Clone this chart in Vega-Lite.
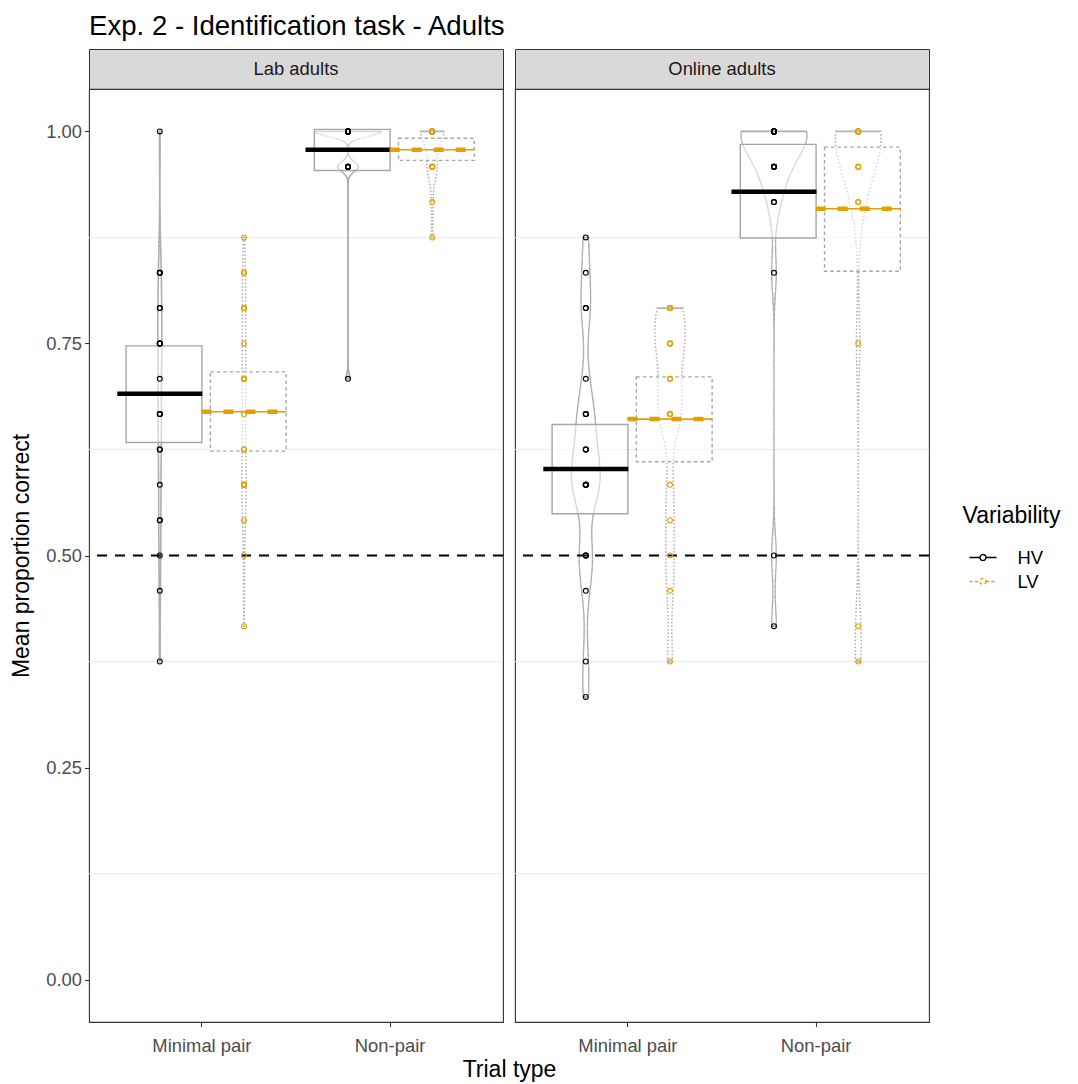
{
"$schema": "https://vega.github.io/schema/vega-lite/v6.json",
"background": "white",
"padding": {"left": 10, "top": 12, "right": 5, "bottom": 2},
"title": {"text": "Exp. 2 - Identification task - Adults", "anchor": "start", "frame": "group", "fontSize": 27.6, "fontWeight": "normal", "color": "#000000", "font": "Liberation Sans", "offset": 8},
"datasets": {
"grid": [{"g": 0.125}, {"g": 0.375}, {"g": 0.625}, {"g": 0.875}],
"ref": [{"y": 0.5}],
"stats": [
{"panel": "Lab", "trial": "Minimal pair", "var": "HV", "mean": 0.6906, "lo": 0.6333, "hi": 0.7471},
{"panel": "Lab", "trial": "Minimal pair", "var": "LV", "mean": 0.6694, "lo": 0.6231, "hi": 0.7165},
{"panel": "Lab", "trial": "Non-pair", "var": "HV", "mean": 0.9784, "lo": 0.954, "hi": 1.0024},
{"panel": "Lab", "trial": "Non-pair", "var": "LV", "mean": 0.9784, "lo": 0.9658, "hi": 0.992},
{"panel": "Online", "trial": "Minimal pair", "var": "HV", "mean": 0.6019, "lo": 0.5492, "hi": 0.6545},
{"panel": "Online", "trial": "Minimal pair", "var": "LV", "mean": 0.6608, "lo": 0.6105, "hi": 0.7106},
{"panel": "Online", "trial": "Non-pair", "var": "HV", "mean": 0.929, "lo": 0.8743, "hi": 0.9847},
{"panel": "Online", "trial": "Non-pair", "var": "LV", "mean": 0.9089, "lo": 0.8351, "hi": 0.9815}
],
"pts": [
{"panel":"Lab","trial":"Minimal pair","var":"HV","prop":1},
{"panel":"Lab","trial":"Minimal pair","var":"HV","prop":0.8333},
{"panel":"Lab","trial":"Minimal pair","var":"HV","prop":0.8333},
{"panel":"Lab","trial":"Minimal pair","var":"HV","prop":0.8333},
{"panel":"Lab","trial":"Minimal pair","var":"HV","prop":0.7917},
{"panel":"Lab","trial":"Minimal pair","var":"HV","prop":0.7917},
{"panel":"Lab","trial":"Minimal pair","var":"HV","prop":0.75},
{"panel":"Lab","trial":"Minimal pair","var":"HV","prop":0.75},
{"panel":"Lab","trial":"Minimal pair","var":"HV","prop":0.75},
{"panel":"Lab","trial":"Minimal pair","var":"HV","prop":0.75},
{"panel":"Lab","trial":"Minimal pair","var":"HV","prop":0.7083},
{"panel":"Lab","trial":"Minimal pair","var":"HV","prop":0.6667},
{"panel":"Lab","trial":"Minimal pair","var":"HV","prop":0.6667},
{"panel":"Lab","trial":"Minimal pair","var":"HV","prop":0.6667},
{"panel":"Lab","trial":"Minimal pair","var":"HV","prop":0.625},
{"panel":"Lab","trial":"Minimal pair","var":"HV","prop":0.625},
{"panel":"Lab","trial":"Minimal pair","var":"HV","prop":0.5833},
{"panel":"Lab","trial":"Minimal pair","var":"HV","prop":0.5417},
{"panel":"Lab","trial":"Minimal pair","var":"HV","prop":0.5417},
{"panel":"Lab","trial":"Minimal pair","var":"HV","prop":0.5},
{"panel":"Lab","trial":"Minimal pair","var":"HV","prop":0.4583},
{"panel":"Lab","trial":"Minimal pair","var":"HV","prop":0.375},
{"panel":"Lab","trial":"Minimal pair","var":"LV","prop":0.875},
{"panel":"Lab","trial":"Minimal pair","var":"LV","prop":0.8333},
{"panel":"Lab","trial":"Minimal pair","var":"LV","prop":0.8333},
{"panel":"Lab","trial":"Minimal pair","var":"LV","prop":0.7917},
{"panel":"Lab","trial":"Minimal pair","var":"LV","prop":0.7917},
{"panel":"Lab","trial":"Minimal pair","var":"LV","prop":0.7917},
{"panel":"Lab","trial":"Minimal pair","var":"LV","prop":0.75},
{"panel":"Lab","trial":"Minimal pair","var":"LV","prop":0.7083},
{"panel":"Lab","trial":"Minimal pair","var":"LV","prop":0.7083},
{"panel":"Lab","trial":"Minimal pair","var":"LV","prop":0.7083},
{"panel":"Lab","trial":"Minimal pair","var":"LV","prop":0.7083},
{"panel":"Lab","trial":"Minimal pair","var":"LV","prop":0.6667},
{"panel":"Lab","trial":"Minimal pair","var":"LV","prop":0.625},
{"panel":"Lab","trial":"Minimal pair","var":"LV","prop":0.625},
{"panel":"Lab","trial":"Minimal pair","var":"LV","prop":0.5833},
{"panel":"Lab","trial":"Minimal pair","var":"LV","prop":0.5833},
{"panel":"Lab","trial":"Minimal pair","var":"LV","prop":0.5833},
{"panel":"Lab","trial":"Minimal pair","var":"LV","prop":0.5833},
{"panel":"Lab","trial":"Minimal pair","var":"LV","prop":0.5833},
{"panel":"Lab","trial":"Minimal pair","var":"LV","prop":0.5417},
{"panel":"Lab","trial":"Minimal pair","var":"LV","prop":0.5},
{"panel":"Lab","trial":"Minimal pair","var":"LV","prop":0.4167},
{"panel":"Lab","trial":"Non-pair","var":"HV","prop":1},
{"panel":"Lab","trial":"Non-pair","var":"HV","prop":1},
{"panel":"Lab","trial":"Non-pair","var":"HV","prop":1},
{"panel":"Lab","trial":"Non-pair","var":"HV","prop":1},
{"panel":"Lab","trial":"Non-pair","var":"HV","prop":1},
{"panel":"Lab","trial":"Non-pair","var":"HV","prop":1},
{"panel":"Lab","trial":"Non-pair","var":"HV","prop":1},
{"panel":"Lab","trial":"Non-pair","var":"HV","prop":1},
{"panel":"Lab","trial":"Non-pair","var":"HV","prop":1},
{"panel":"Lab","trial":"Non-pair","var":"HV","prop":1},
{"panel":"Lab","trial":"Non-pair","var":"HV","prop":1},
{"panel":"Lab","trial":"Non-pair","var":"HV","prop":1},
{"panel":"Lab","trial":"Non-pair","var":"HV","prop":1},
{"panel":"Lab","trial":"Non-pair","var":"HV","prop":1},
{"panel":"Lab","trial":"Non-pair","var":"HV","prop":1},
{"panel":"Lab","trial":"Non-pair","var":"HV","prop":1},
{"panel":"Lab","trial":"Non-pair","var":"HV","prop":0.9583},
{"panel":"Lab","trial":"Non-pair","var":"HV","prop":0.9583},
{"panel":"Lab","trial":"Non-pair","var":"HV","prop":0.9583},
{"panel":"Lab","trial":"Non-pair","var":"HV","prop":0.9583},
{"panel":"Lab","trial":"Non-pair","var":"HV","prop":0.9583},
{"panel":"Lab","trial":"Non-pair","var":"HV","prop":0.7083},
{"panel":"Lab","trial":"Non-pair","var":"LV","prop":1},
{"panel":"Lab","trial":"Non-pair","var":"LV","prop":1},
{"panel":"Lab","trial":"Non-pair","var":"LV","prop":1},
{"panel":"Lab","trial":"Non-pair","var":"LV","prop":1},
{"panel":"Lab","trial":"Non-pair","var":"LV","prop":1},
{"panel":"Lab","trial":"Non-pair","var":"LV","prop":1},
{"panel":"Lab","trial":"Non-pair","var":"LV","prop":1},
{"panel":"Lab","trial":"Non-pair","var":"LV","prop":1},
{"panel":"Lab","trial":"Non-pair","var":"LV","prop":1},
{"panel":"Lab","trial":"Non-pair","var":"LV","prop":1},
{"panel":"Lab","trial":"Non-pair","var":"LV","prop":1},
{"panel":"Lab","trial":"Non-pair","var":"LV","prop":1},
{"panel":"Lab","trial":"Non-pair","var":"LV","prop":1},
{"panel":"Lab","trial":"Non-pair","var":"LV","prop":1},
{"panel":"Lab","trial":"Non-pair","var":"LV","prop":0.9583},
{"panel":"Lab","trial":"Non-pair","var":"LV","prop":0.9583},
{"panel":"Lab","trial":"Non-pair","var":"LV","prop":0.9583},
{"panel":"Lab","trial":"Non-pair","var":"LV","prop":0.9583},
{"panel":"Lab","trial":"Non-pair","var":"LV","prop":0.9583},
{"panel":"Lab","trial":"Non-pair","var":"LV","prop":0.9583},
{"panel":"Lab","trial":"Non-pair","var":"LV","prop":0.9167},
{"panel":"Lab","trial":"Non-pair","var":"LV","prop":0.875},
{"panel":"Online","trial":"Minimal pair","var":"HV","prop":0.875},
{"panel":"Online","trial":"Minimal pair","var":"HV","prop":0.8333},
{"panel":"Online","trial":"Minimal pair","var":"HV","prop":0.7917},
{"panel":"Online","trial":"Minimal pair","var":"HV","prop":0.7917},
{"panel":"Online","trial":"Minimal pair","var":"HV","prop":0.7083},
{"panel":"Online","trial":"Minimal pair","var":"HV","prop":0.6667},
{"panel":"Online","trial":"Minimal pair","var":"HV","prop":0.6667},
{"panel":"Online","trial":"Minimal pair","var":"HV","prop":0.6667},
{"panel":"Online","trial":"Minimal pair","var":"HV","prop":0.625},
{"panel":"Online","trial":"Minimal pair","var":"HV","prop":0.625},
{"panel":"Online","trial":"Minimal pair","var":"HV","prop":0.625},
{"panel":"Online","trial":"Minimal pair","var":"HV","prop":0.5833},
{"panel":"Online","trial":"Minimal pair","var":"HV","prop":0.5833},
{"panel":"Online","trial":"Minimal pair","var":"HV","prop":0.5833},
{"panel":"Online","trial":"Minimal pair","var":"HV","prop":0.5833},
{"panel":"Online","trial":"Minimal pair","var":"HV","prop":0.5833},
{"panel":"Online","trial":"Minimal pair","var":"HV","prop":0.5833},
{"panel":"Online","trial":"Minimal pair","var":"HV","prop":0.5},
{"panel":"Online","trial":"Minimal pair","var":"HV","prop":0.5},
{"panel":"Online","trial":"Minimal pair","var":"HV","prop":0.5},
{"panel":"Online","trial":"Minimal pair","var":"HV","prop":0.4583},
{"panel":"Online","trial":"Minimal pair","var":"HV","prop":0.375},
{"panel":"Online","trial":"Minimal pair","var":"HV","prop":0.3333},
{"panel":"Online","trial":"Minimal pair","var":"LV","prop":0.7917},
{"panel":"Online","trial":"Minimal pair","var":"LV","prop":0.7917},
{"panel":"Online","trial":"Minimal pair","var":"LV","prop":0.7917},
{"panel":"Online","trial":"Minimal pair","var":"LV","prop":0.7917},
{"panel":"Online","trial":"Minimal pair","var":"LV","prop":0.75},
{"panel":"Online","trial":"Minimal pair","var":"LV","prop":0.75},
{"panel":"Online","trial":"Minimal pair","var":"LV","prop":0.75},
{"panel":"Online","trial":"Minimal pair","var":"LV","prop":0.75},
{"panel":"Online","trial":"Minimal pair","var":"LV","prop":0.7083},
{"panel":"Online","trial":"Minimal pair","var":"LV","prop":0.7083},
{"panel":"Online","trial":"Minimal pair","var":"LV","prop":0.6667},
{"panel":"Online","trial":"Minimal pair","var":"LV","prop":0.6667},
{"panel":"Online","trial":"Minimal pair","var":"LV","prop":0.6667},
{"panel":"Online","trial":"Minimal pair","var":"LV","prop":0.6667},
{"panel":"Online","trial":"Minimal pair","var":"LV","prop":0.5833},
{"panel":"Online","trial":"Minimal pair","var":"LV","prop":0.5417},
{"panel":"Online","trial":"Minimal pair","var":"LV","prop":0.5},
{"panel":"Online","trial":"Minimal pair","var":"LV","prop":0.4583},
{"panel":"Online","trial":"Minimal pair","var":"LV","prop":0.375},
{"panel":"Online","trial":"Non-pair","var":"HV","prop":1},
{"panel":"Online","trial":"Non-pair","var":"HV","prop":1},
{"panel":"Online","trial":"Non-pair","var":"HV","prop":1},
{"panel":"Online","trial":"Non-pair","var":"HV","prop":1},
{"panel":"Online","trial":"Non-pair","var":"HV","prop":1},
{"panel":"Online","trial":"Non-pair","var":"HV","prop":1},
{"panel":"Online","trial":"Non-pair","var":"HV","prop":1},
{"panel":"Online","trial":"Non-pair","var":"HV","prop":1},
{"panel":"Online","trial":"Non-pair","var":"HV","prop":1},
{"panel":"Online","trial":"Non-pair","var":"HV","prop":1},
{"panel":"Online","trial":"Non-pair","var":"HV","prop":1},
{"panel":"Online","trial":"Non-pair","var":"HV","prop":1},
{"panel":"Online","trial":"Non-pair","var":"HV","prop":1},
{"panel":"Online","trial":"Non-pair","var":"HV","prop":0.9583},
{"panel":"Online","trial":"Non-pair","var":"HV","prop":0.9583},
{"panel":"Online","trial":"Non-pair","var":"HV","prop":0.9583},
{"panel":"Online","trial":"Non-pair","var":"HV","prop":0.9583},
{"panel":"Online","trial":"Non-pair","var":"HV","prop":0.9583},
{"panel":"Online","trial":"Non-pair","var":"HV","prop":0.9167},
{"panel":"Online","trial":"Non-pair","var":"HV","prop":0.9167},
{"panel":"Online","trial":"Non-pair","var":"HV","prop":0.8333},
{"panel":"Online","trial":"Non-pair","var":"HV","prop":0.5},
{"panel":"Online","trial":"Non-pair","var":"HV","prop":0.4167},
{"panel":"Online","trial":"Non-pair","var":"LV","prop":1},
{"panel":"Online","trial":"Non-pair","var":"LV","prop":1},
{"panel":"Online","trial":"Non-pair","var":"LV","prop":1},
{"panel":"Online","trial":"Non-pair","var":"LV","prop":1},
{"panel":"Online","trial":"Non-pair","var":"LV","prop":1},
{"panel":"Online","trial":"Non-pair","var":"LV","prop":1},
{"panel":"Online","trial":"Non-pair","var":"LV","prop":1},
{"panel":"Online","trial":"Non-pair","var":"LV","prop":1},
{"panel":"Online","trial":"Non-pair","var":"LV","prop":1},
{"panel":"Online","trial":"Non-pair","var":"LV","prop":1},
{"panel":"Online","trial":"Non-pair","var":"LV","prop":1},
{"panel":"Online","trial":"Non-pair","var":"LV","prop":0.9583},
{"panel":"Online","trial":"Non-pair","var":"LV","prop":0.9583},
{"panel":"Online","trial":"Non-pair","var":"LV","prop":0.9583},
{"panel":"Online","trial":"Non-pair","var":"LV","prop":0.9167},
{"panel":"Online","trial":"Non-pair","var":"LV","prop":0.9167},
{"panel":"Online","trial":"Non-pair","var":"LV","prop":0.75},
{"panel":"Online","trial":"Non-pair","var":"LV","prop":0.4167},
{"panel":"Online","trial":"Non-pair","var":"LV","prop":0.375}
]
},
"columns": 2,
"spacing": {"row": 0, "column": 12},
"bounds": "flush",
"resolve": {"scale": {"size": "independent", "color": "shared"}, "legend": {"color": "shared"}},
"concat": [
{"width": 414, "height": 40, "data": {"values": [{"panel": "Lab adults"}]}, "view": {"fill": "#D9D9D9", "stroke": "#333333"}, "mark": {"type": "text", "fontSize": 18.4, "color": "#1A1A1A", "font": "Liberation Sans", "baseline": "middle", "align": "center"}, "encoding": {"text": {"field": "panel"}}},
{"width": 414, "height": 40, "data": {"values": [{"panel": "Online adults"}]}, "view": {"fill": "#D9D9D9", "stroke": "#333333"}, "mark": {"type": "text", "fontSize": 18.4, "color": "#1A1A1A", "font": "Liberation Sans", "baseline": "middle", "align": "center"}, "encoding": {"text": {"field": "panel"}}},
{"width": 414, "height": 933,
 "layer": [
  {"data": {"name": "grid"}, "mark": {"type": "rule", "color": "#EBEBEB", "strokeWidth": 1}, "encoding": {"y": {"field": "g", "type": "quantitative", "title": "Mean proportion correct", "scale": {"domain": [-0.05, 1.05], "nice": false, "zero": false}, "axis": {"title": "Mean proportion correct", "values": [0, 0.25, 0.5, 0.75, 1], "format": ".2f", "titlePadding": 12}}}},
  {"data": {"name": "pts"}, "transform": [{"filter": "datum.panel === 'Lab' && datum.trial === 'Minimal pair' && datum.var === 'HV'"}, {"density": "prop", "groupby": ["trial", "var"], "bandwidth": 0.04, "steps": 400, "as": ["prop", "density"]}, {"joinaggregate": [{"op": "min", "field": "prop", "as": "pmin"}, {"op": "max", "field": "prop", "as": "pmax"}]}],
   "mark": {"type": "point", "filled": false, "stroke": "#ABABAB", "strokeWidth": 1.8, "strokeCap": "round", "opacity": 1},
   "encoding": {"x": {"field": "trial", "type": "nominal", "title": "Trial type", "scale": {"domain": ["Minimal pair", "Non-pair"], "paddingInner": 0.105, "paddingOuter": 0.1525}, "axis": {"title": "Trial type", "titleX": 420}}, "xOffset": {"field": "var", "type": "nominal", "scale": {"domain": ["HV", "LV"]}}, "y": {"field": "prop", "type": "quantitative", "title": "Mean proportion correct", "scale": {"domain": [-0.05, 1.05], "nice": false, "zero": false}, "axis": {"title": "Mean proportion correct", "values": [0, 0.25, 0.5, 0.75, 1], "format": ".2f", "titlePadding": 12}}, "size": {"field": "density", "type": "quantitative", "scale": {"type": "pow", "exponent": 2, "range": [0, 4356]}, "legend": null}, "shape": {"condition": {"test": "datum.prop === datum.pmin || datum.prop === datum.pmax", "value": "M -1 0 L 1 0"}, "value": "M -1 0 L -1 0 M 1 0 L 1 0"}}},
  {"data": {"name": "pts"}, "transform": [{"filter": "datum.panel === 'Lab' && datum.trial === 'Minimal pair' && datum.var === 'LV'"}, {"density": "prop", "groupby": ["trial", "var"], "bandwidth": 0.04, "steps": 110, "as": ["prop", "density"]}, {"joinaggregate": [{"op": "min", "field": "prop", "as": "pmin"}, {"op": "max", "field": "prop", "as": "pmax"}]}],
   "mark": {"type": "point", "filled": false, "stroke": "#B3B3B3", "strokeWidth": 1.8, "strokeCap": "round", "opacity": 1},
   "encoding": {"x": {"field": "trial", "type": "nominal", "title": "Trial type", "scale": {"domain": ["Minimal pair", "Non-pair"], "paddingInner": 0.105, "paddingOuter": 0.1525}, "axis": {"title": "Trial type", "titleX": 420}}, "xOffset": {"field": "var", "type": "nominal", "scale": {"domain": ["HV", "LV"]}}, "y": {"field": "prop", "type": "quantitative", "title": "Mean proportion correct", "scale": {"domain": [-0.05, 1.05], "nice": false, "zero": false}, "axis": {"title": "Mean proportion correct", "values": [0, 0.25, 0.5, 0.75, 1], "format": ".2f", "titlePadding": 12}}, "size": {"field": "density", "type": "quantitative", "scale": {"type": "pow", "exponent": 2, "range": [0, 4356]}, "legend": null}, "shape": {"condition": {"test": "datum.prop === datum.pmin || datum.prop === datum.pmax", "value": "M -1 0 L 1 0"}, "value": "M -1 0 L -1 0 M 1 0 L 1 0"}}},
  {"data": {"name": "pts"}, "transform": [{"filter": "datum.panel === 'Lab' && datum.trial === 'Non-pair' && datum.var === 'HV'"}, {"density": "prop", "groupby": ["trial", "var"], "bandwidth": 0.006, "steps": 400, "as": ["prop", "density"]}, {"joinaggregate": [{"op": "min", "field": "prop", "as": "pmin"}, {"op": "max", "field": "prop", "as": "pmax"}]}],
   "mark": {"type": "point", "filled": false, "stroke": "#ABABAB", "strokeWidth": 1.6, "strokeCap": "round", "opacity": 1},
   "encoding": {"x": {"field": "trial", "type": "nominal", "title": "Trial type", "scale": {"domain": ["Minimal pair", "Non-pair"], "paddingInner": 0.105, "paddingOuter": 0.1525}, "axis": {"title": "Trial type", "titleX": 420}}, "xOffset": {"field": "var", "type": "nominal", "scale": {"domain": ["HV", "LV"]}}, "y": {"field": "prop", "type": "quantitative", "title": "Mean proportion correct", "scale": {"domain": [-0.05, 1.05], "nice": false, "zero": false}, "axis": {"title": "Mean proportion correct", "values": [0, 0.25, 0.5, 0.75, 1], "format": ".2f", "titlePadding": 12}}, "size": {"field": "density", "type": "quantitative", "scale": {"type": "pow", "exponent": 2, "range": [0, 4356]}, "legend": null}, "shape": {"condition": {"test": "datum.prop === datum.pmin || datum.prop === datum.pmax", "value": "M -1 0 L 1 0"}, "value": "M -1 0 L -1 0 M 1 0 L 1 0"}}},
  {"data": {"name": "pts"}, "transform": [{"filter": "datum.panel === 'Lab' && datum.trial === 'Non-pair' && datum.var === 'LV'"}, {"density": "prop", "groupby": ["trial", "var"], "bandwidth": 0.015, "steps": 32, "as": ["prop", "density"]}, {"joinaggregate": [{"op": "min", "field": "prop", "as": "pmin"}, {"op": "max", "field": "prop", "as": "pmax"}]}],
   "mark": {"type": "point", "filled": false, "stroke": "#B3B3B3", "strokeWidth": 1.8, "strokeCap": "round", "opacity": 1},
   "encoding": {"x": {"field": "trial", "type": "nominal", "title": "Trial type", "scale": {"domain": ["Minimal pair", "Non-pair"], "paddingInner": 0.105, "paddingOuter": 0.1525}, "axis": {"title": "Trial type", "titleX": 420}}, "xOffset": {"field": "var", "type": "nominal", "scale": {"domain": ["HV", "LV"]}}, "y": {"field": "prop", "type": "quantitative", "title": "Mean proportion correct", "scale": {"domain": [-0.05, 1.05], "nice": false, "zero": false}, "axis": {"title": "Mean proportion correct", "values": [0, 0.25, 0.5, 0.75, 1], "format": ".2f", "titlePadding": 12}}, "size": {"field": "density", "type": "quantitative", "scale": {"type": "pow", "exponent": 2, "range": [0, 4356]}, "legend": null}, "shape": {"condition": {"test": "datum.prop === datum.pmin || datum.prop === datum.pmax", "value": "M -1 0 L 1 0"}, "value": "M -1 0 L -1 0 M 1 0 L 1 0"}}},
  {"data": {"name": "stats"}, "transform": [{"filter": "datum.panel === 'Lab' && datum.var === 'HV'"}],
   "mark": {"type": "bar", "width": {"band": 0.9}, "fill": "white", "fillOpacity": 0.5, "stroke": "#A6A6A6", "strokeWidth": 1.4},
   "encoding": {"x": {"field": "trial", "type": "nominal", "title": "Trial type", "scale": {"domain": ["Minimal pair", "Non-pair"], "paddingInner": 0.105, "paddingOuter": 0.1525}, "axis": {"title": "Trial type", "titleX": 420}}, "xOffset": {"field": "var", "type": "nominal", "scale": {"domain": ["HV", "LV"]}}, "y": {"field": "lo", "type": "quantitative", "title": "Mean proportion correct", "scale": {"domain": [-0.05, 1.05], "nice": false, "zero": false}, "axis": {"title": "Mean proportion correct", "values": [0, 0.25, 0.5, 0.75, 1], "format": ".2f", "titlePadding": 12}}, "y2": {"field": "hi"}}},
  {"data": {"name": "stats"}, "transform": [{"filter": "datum.panel === 'Lab' && datum.var === 'LV'"}],
   "mark": {"type": "bar", "width": {"band": 0.9}, "fill": "white", "fillOpacity": 0.5, "stroke": "#A6A6A6", "strokeWidth": 1.4, "strokeDash": [3.5, 3]},
   "encoding": {"x": {"field": "trial", "type": "nominal", "title": "Trial type", "scale": {"domain": ["Minimal pair", "Non-pair"], "paddingInner": 0.105, "paddingOuter": 0.1525}, "axis": {"title": "Trial type", "titleX": 420}}, "xOffset": {"field": "var", "type": "nominal", "scale": {"domain": ["HV", "LV"]}}, "y": {"field": "lo", "type": "quantitative", "title": "Mean proportion correct", "scale": {"domain": [-0.05, 1.05], "nice": false, "zero": false}, "axis": {"title": "Mean proportion correct", "values": [0, 0.25, 0.5, 0.75, 1], "format": ".2f", "titlePadding": 12}}, "y2": {"field": "hi"}}},
  {"data": {"name": "ref"}, "mark": {"type": "rule", "color": "#000000", "strokeWidth": 2, "strokeDash": [10, 8]}, "encoding": {"y": {"field": "y", "type": "quantitative", "title": "Mean proportion correct", "scale": {"domain": [-0.05, 1.05], "nice": false, "zero": false}, "axis": {"title": "Mean proportion correct", "values": [0, 0.25, 0.5, 0.75, 1], "format": ".2f", "titlePadding": 12}}}},
  {"data": {"name": "stats"}, "transform": [{"filter": "datum.panel === 'Lab' && datum.var === 'HV'"}],
   "mark": {"type": "point", "shape": "M -1 0 L 1 0", "size": 7225, "filled": false, "stroke": "#000000", "strokeWidth": 4.5, "opacity": 1},
   "encoding": {"x": {"field": "trial", "type": "nominal", "title": "Trial type", "scale": {"domain": ["Minimal pair", "Non-pair"], "paddingInner": 0.105, "paddingOuter": 0.1525}, "axis": {"title": "Trial type", "titleX": 420}}, "xOffset": {"field": "var", "type": "nominal", "scale": {"domain": ["HV", "LV"]}}, "y": {"field": "mean", "type": "quantitative", "title": "Mean proportion correct", "scale": {"domain": [-0.05, 1.05], "nice": false, "zero": false}, "axis": {"title": "Mean proportion correct", "values": [0, 0.25, 0.5, 0.75, 1], "format": ".2f", "titlePadding": 12}}}},
  {"data": {"name": "stats"}, "transform": [{"filter": "datum.panel === 'Lab' && datum.var === 'LV'"}],
   "mark": {"type": "point", "shape": "M -1 0 L 1 0", "size": 7225, "filled": false, "stroke": "#E69F00", "strokeWidth": 1.6, "opacity": 1},
   "encoding": {"x": {"field": "trial", "type": "nominal", "title": "Trial type", "scale": {"domain": ["Minimal pair", "Non-pair"], "paddingInner": 0.105, "paddingOuter": 0.1525}, "axis": {"title": "Trial type", "titleX": 420}}, "xOffset": {"field": "var", "type": "nominal", "scale": {"domain": ["HV", "LV"]}}, "y": {"field": "mean", "type": "quantitative", "title": "Mean proportion correct", "scale": {"domain": [-0.05, 1.05], "nice": false, "zero": false}, "axis": {"title": "Mean proportion correct", "values": [0, 0.25, 0.5, 0.75, 1], "format": ".2f", "titlePadding": 12}}}},
  {"data": {"name": "stats"}, "transform": [{"filter": "datum.panel === 'Lab' && datum.var === 'LV'"}],
   "mark": {"type": "point", "shape": "M -1 0 L 1 0", "size": 7225, "filled": false, "stroke": "#E69F00", "strokeWidth": 4.5, "strokeDash": [10, 12], "opacity": 1},
   "encoding": {"x": {"field": "trial", "type": "nominal", "title": "Trial type", "scale": {"domain": ["Minimal pair", "Non-pair"], "paddingInner": 0.105, "paddingOuter": 0.1525}, "axis": {"title": "Trial type", "titleX": 420}}, "xOffset": {"field": "var", "type": "nominal", "scale": {"domain": ["HV", "LV"]}}, "y": {"field": "mean", "type": "quantitative", "title": "Mean proportion correct", "scale": {"domain": [-0.05, 1.05], "nice": false, "zero": false}, "axis": {"title": "Mean proportion correct", "values": [0, 0.25, 0.5, 0.75, 1], "format": ".2f", "titlePadding": 12}}}},
  {"data": {"name": "pts"}, "transform": [{"filter": "datum.panel === 'Lab'"}],
   "mark": {"type": "point", "shape": "circle", "size": 24, "filled": false, "strokeWidth": 1.1, "opacity": 1},
   "encoding": {"x": {"field": "trial", "type": "nominal", "title": "Trial type", "scale": {"domain": ["Minimal pair", "Non-pair"], "paddingInner": 0.105, "paddingOuter": 0.1525}, "axis": {"title": "Trial type", "titleX": 420}}, "xOffset": {"field": "var", "type": "nominal", "scale": {"domain": ["HV", "LV"]}}, "y": {"field": "prop", "type": "quantitative", "title": "Mean proportion correct", "scale": {"domain": [-0.05, 1.05], "nice": false, "zero": false}, "axis": {"title": "Mean proportion correct", "values": [0, 0.25, 0.5, 0.75, 1], "format": ".2f", "titlePadding": 12}}, "color": {"field": "var", "type": "nominal", "title": "Variability", "scale": {"domain": ["HV", "LV"], "range": ["#000000", "#E69F00"]}, "legend": {"title": "Variability", "orient": "none", "legendX": 873.5, "legendY": 456, "symbolType": "M -1 0 L -0.22 0 M 0.22 0 L 1 0 M 0.22 0 A 0.22 0.22 0 1 1 -0.22 0 A 0.22 0.22 0 1 1 0.22 0", "encoding": {"symbols": {"strokeDash": {"condition": {"test": "datum.value === 'LV'", "value": [3, 2.5]}, "value": [1, 0]}}}}}}}
 ]},
{"width": 414, "height": 933,
 "layer": [
  {"data": {"name": "grid"}, "mark": {"type": "rule", "color": "#EBEBEB", "strokeWidth": 1}, "encoding": {"y": {"field": "g", "type": "quantitative", "scale": {"domain": [-0.05, 1.05], "nice": false, "zero": false}, "axis": null}}},
  {"data": {"name": "pts"}, "transform": [{"filter": "datum.panel === 'Online' && datum.trial === 'Minimal pair' && datum.var === 'HV'"}, {"density": "prop", "groupby": ["trial", "var"], "bandwidth": 0.03, "steps": 400, "as": ["prop", "density"]}, {"joinaggregate": [{"op": "min", "field": "prop", "as": "pmin"}, {"op": "max", "field": "prop", "as": "pmax"}]}],
   "mark": {"type": "point", "filled": false, "stroke": "#ABABAB", "strokeWidth": 1.6, "strokeCap": "round", "opacity": 1},
   "encoding": {"x": {"field": "trial", "type": "nominal", "title": null, "scale": {"domain": ["Minimal pair", "Non-pair"], "paddingInner": 0.105, "paddingOuter": 0.1525}, "axis": {"title": null}}, "xOffset": {"field": "var", "type": "nominal", "scale": {"domain": ["HV", "LV"]}}, "y": {"field": "prop", "type": "quantitative", "scale": {"domain": [-0.05, 1.05], "nice": false, "zero": false}, "axis": null}, "size": {"field": "density", "type": "quantitative", "scale": {"type": "pow", "exponent": 2, "range": [0, 4356]}, "legend": null}, "shape": {"condition": {"test": "datum.prop === datum.pmin || datum.prop === datum.pmax", "value": "M -1 0 L 1 0"}, "value": "M -1 0 L -1 0 M 1 0 L 1 0"}}},
  {"data": {"name": "pts"}, "transform": [{"filter": "datum.panel === 'Online' && datum.trial === 'Minimal pair' && datum.var === 'LV'"}, {"density": "prop", "groupby": ["trial", "var"], "bandwidth": 0.03, "steps": 100, "as": ["prop", "density"]}, {"joinaggregate": [{"op": "min", "field": "prop", "as": "pmin"}, {"op": "max", "field": "prop", "as": "pmax"}]}],
   "mark": {"type": "point", "filled": false, "stroke": "#B3B3B3", "strokeWidth": 1.8, "strokeCap": "round", "opacity": 1},
   "encoding": {"x": {"field": "trial", "type": "nominal", "title": null, "scale": {"domain": ["Minimal pair", "Non-pair"], "paddingInner": 0.105, "paddingOuter": 0.1525}, "axis": {"title": null}}, "xOffset": {"field": "var", "type": "nominal", "scale": {"domain": ["HV", "LV"]}}, "y": {"field": "prop", "type": "quantitative", "scale": {"domain": [-0.05, 1.05], "nice": false, "zero": false}, "axis": null}, "size": {"field": "density", "type": "quantitative", "scale": {"type": "pow", "exponent": 2, "range": [0, 4356]}, "legend": null}, "shape": {"condition": {"test": "datum.prop === datum.pmin || datum.prop === datum.pmax", "value": "M -1 0 L 1 0"}, "value": "M -1 0 L -1 0 M 1 0 L 1 0"}}},
  {"data": {"name": "pts"}, "transform": [{"filter": "datum.panel === 'Online' && datum.trial === 'Non-pair' && datum.var === 'HV'"}, {"density": "prop", "groupby": ["trial", "var"], "bandwidth": 0.025, "steps": 400, "as": ["prop", "density"]}, {"joinaggregate": [{"op": "min", "field": "prop", "as": "pmin"}, {"op": "max", "field": "prop", "as": "pmax"}]}],
   "mark": {"type": "point", "filled": false, "stroke": "#ABABAB", "strokeWidth": 1.6, "strokeCap": "round", "opacity": 1},
   "encoding": {"x": {"field": "trial", "type": "nominal", "title": null, "scale": {"domain": ["Minimal pair", "Non-pair"], "paddingInner": 0.105, "paddingOuter": 0.1525}, "axis": {"title": null}}, "xOffset": {"field": "var", "type": "nominal", "scale": {"domain": ["HV", "LV"]}}, "y": {"field": "prop", "type": "quantitative", "scale": {"domain": [-0.05, 1.05], "nice": false, "zero": false}, "axis": null}, "size": {"field": "density", "type": "quantitative", "scale": {"type": "pow", "exponent": 2, "range": [0, 4356]}, "legend": null}, "shape": {"condition": {"test": "datum.prop === datum.pmin || datum.prop === datum.pmax", "value": "M -1 0 L 1 0"}, "value": "M -1 0 L -1 0 M 1 0 L 1 0"}}},
  {"data": {"name": "pts"}, "transform": [{"filter": "datum.panel === 'Online' && datum.trial === 'Non-pair' && datum.var === 'LV'"}, {"density": "prop", "groupby": ["trial", "var"], "bandwidth": 0.04, "steps": 150, "as": ["prop", "density"]}, {"joinaggregate": [{"op": "min", "field": "prop", "as": "pmin"}, {"op": "max", "field": "prop", "as": "pmax"}]}],
   "mark": {"type": "point", "filled": false, "stroke": "#B3B3B3", "strokeWidth": 1.8, "strokeCap": "round", "opacity": 1},
   "encoding": {"x": {"field": "trial", "type": "nominal", "title": null, "scale": {"domain": ["Minimal pair", "Non-pair"], "paddingInner": 0.105, "paddingOuter": 0.1525}, "axis": {"title": null}}, "xOffset": {"field": "var", "type": "nominal", "scale": {"domain": ["HV", "LV"]}}, "y": {"field": "prop", "type": "quantitative", "scale": {"domain": [-0.05, 1.05], "nice": false, "zero": false}, "axis": null}, "size": {"field": "density", "type": "quantitative", "scale": {"type": "pow", "exponent": 2, "range": [0, 4356]}, "legend": null}, "shape": {"condition": {"test": "datum.prop === datum.pmin || datum.prop === datum.pmax", "value": "M -1 0 L 1 0"}, "value": "M -1 0 L -1 0 M 1 0 L 1 0"}}},
  {"data": {"name": "stats"}, "transform": [{"filter": "datum.panel === 'Online' && datum.var === 'HV'"}],
   "mark": {"type": "bar", "width": {"band": 0.9}, "fill": "white", "fillOpacity": 0.5, "stroke": "#A6A6A6", "strokeWidth": 1.4},
   "encoding": {"x": {"field": "trial", "type": "nominal", "title": null, "scale": {"domain": ["Minimal pair", "Non-pair"], "paddingInner": 0.105, "paddingOuter": 0.1525}, "axis": {"title": null}}, "xOffset": {"field": "var", "type": "nominal", "scale": {"domain": ["HV", "LV"]}}, "y": {"field": "lo", "type": "quantitative", "scale": {"domain": [-0.05, 1.05], "nice": false, "zero": false}, "axis": null}, "y2": {"field": "hi"}}},
  {"data": {"name": "stats"}, "transform": [{"filter": "datum.panel === 'Online' && datum.var === 'LV'"}],
   "mark": {"type": "bar", "width": {"band": 0.9}, "fill": "white", "fillOpacity": 0.5, "stroke": "#A6A6A6", "strokeWidth": 1.4, "strokeDash": [3.5, 3]},
   "encoding": {"x": {"field": "trial", "type": "nominal", "title": null, "scale": {"domain": ["Minimal pair", "Non-pair"], "paddingInner": 0.105, "paddingOuter": 0.1525}, "axis": {"title": null}}, "xOffset": {"field": "var", "type": "nominal", "scale": {"domain": ["HV", "LV"]}}, "y": {"field": "lo", "type": "quantitative", "scale": {"domain": [-0.05, 1.05], "nice": false, "zero": false}, "axis": null}, "y2": {"field": "hi"}}},
  {"data": {"name": "ref"}, "mark": {"type": "rule", "color": "#000000", "strokeWidth": 2, "strokeDash": [10, 8]}, "encoding": {"y": {"field": "y", "type": "quantitative", "scale": {"domain": [-0.05, 1.05], "nice": false, "zero": false}, "axis": null}}},
  {"data": {"name": "stats"}, "transform": [{"filter": "datum.panel === 'Online' && datum.var === 'HV'"}],
   "mark": {"type": "point", "shape": "M -1 0 L 1 0", "size": 7225, "filled": false, "stroke": "#000000", "strokeWidth": 4.5, "opacity": 1},
   "encoding": {"x": {"field": "trial", "type": "nominal", "title": null, "scale": {"domain": ["Minimal pair", "Non-pair"], "paddingInner": 0.105, "paddingOuter": 0.1525}, "axis": {"title": null}}, "xOffset": {"field": "var", "type": "nominal", "scale": {"domain": ["HV", "LV"]}}, "y": {"field": "mean", "type": "quantitative", "scale": {"domain": [-0.05, 1.05], "nice": false, "zero": false}, "axis": null}}},
  {"data": {"name": "stats"}, "transform": [{"filter": "datum.panel === 'Online' && datum.var === 'LV'"}],
   "mark": {"type": "point", "shape": "M -1 0 L 1 0", "size": 7225, "filled": false, "stroke": "#E69F00", "strokeWidth": 1.6, "opacity": 1},
   "encoding": {"x": {"field": "trial", "type": "nominal", "title": null, "scale": {"domain": ["Minimal pair", "Non-pair"], "paddingInner": 0.105, "paddingOuter": 0.1525}, "axis": {"title": null}}, "xOffset": {"field": "var", "type": "nominal", "scale": {"domain": ["HV", "LV"]}}, "y": {"field": "mean", "type": "quantitative", "scale": {"domain": [-0.05, 1.05], "nice": false, "zero": false}, "axis": null}}},
  {"data": {"name": "stats"}, "transform": [{"filter": "datum.panel === 'Online' && datum.var === 'LV'"}],
   "mark": {"type": "point", "shape": "M -1 0 L 1 0", "size": 7225, "filled": false, "stroke": "#E69F00", "strokeWidth": 4.5, "strokeDash": [10, 12], "opacity": 1},
   "encoding": {"x": {"field": "trial", "type": "nominal", "title": null, "scale": {"domain": ["Minimal pair", "Non-pair"], "paddingInner": 0.105, "paddingOuter": 0.1525}, "axis": {"title": null}}, "xOffset": {"field": "var", "type": "nominal", "scale": {"domain": ["HV", "LV"]}}, "y": {"field": "mean", "type": "quantitative", "scale": {"domain": [-0.05, 1.05], "nice": false, "zero": false}, "axis": null}}},
  {"data": {"name": "pts"}, "transform": [{"filter": "datum.panel === 'Online'"}],
   "mark": {"type": "point", "shape": "circle", "size": 24, "filled": false, "strokeWidth": 1.1, "opacity": 1},
   "encoding": {"x": {"field": "trial", "type": "nominal", "title": null, "scale": {"domain": ["Minimal pair", "Non-pair"], "paddingInner": 0.105, "paddingOuter": 0.1525}, "axis": {"title": null}}, "xOffset": {"field": "var", "type": "nominal", "scale": {"domain": ["HV", "LV"]}}, "y": {"field": "prop", "type": "quantitative", "scale": {"domain": [-0.05, 1.05], "nice": false, "zero": false}, "axis": null}, "color": {"field": "var", "type": "nominal", "title": "Variability", "scale": {"domain": ["HV", "LV"], "range": ["#000000", "#E69F00"]}, "legend": {"title": "Variability", "orient": "none", "legendX": 873.5, "legendY": 456, "symbolType": "M -1 0 L -0.22 0 M 0.22 0 L 1 0 M 0.22 0 A 0.22 0.22 0 1 1 -0.22 0 A 0.22 0.22 0 1 1 0.22 0", "encoding": {"symbols": {"strokeDash": {"condition": {"test": "datum.value === 'LV'", "value": [3, 2.5]}, "value": [1, 0]}}}}}}}
 ]}
],
"config": {
 "font": "Liberation Sans",
 "view": {"stroke": "#333333", "strokeWidth": 1.1},
 "axis": {"labelFontSize": 18.4, "labelColor": "#4D4D4D", "labelFont": "Liberation Sans", "tickColor": "#333333", "tickSize": 4.5, "tickWidth": 1.1, "domain": false, "grid": false, "titleFontSize": 23, "titleFontWeight": "normal", "titleColor": "#000000", "titleFont": "Liberation Sans", "labelPadding": 3},
 "axisX": {"labelAngle": 0, "titlePadding": 4, "labelPadding": 9.5},
 "legend": {"titleFontSize": 23, "titleFontWeight": "normal", "titleColor": "#000000", "titleFont": "Liberation Sans", "labelFontSize": 18.4, "labelColor": "#000000", "labelFont": "Liberation Sans", "symbolSize": 729, "symbolStrokeWidth": 1.4, "rowPadding": 0, "titlePadding": 15, "symbolOffset": 6, "labelOffset": 20}
}
}
